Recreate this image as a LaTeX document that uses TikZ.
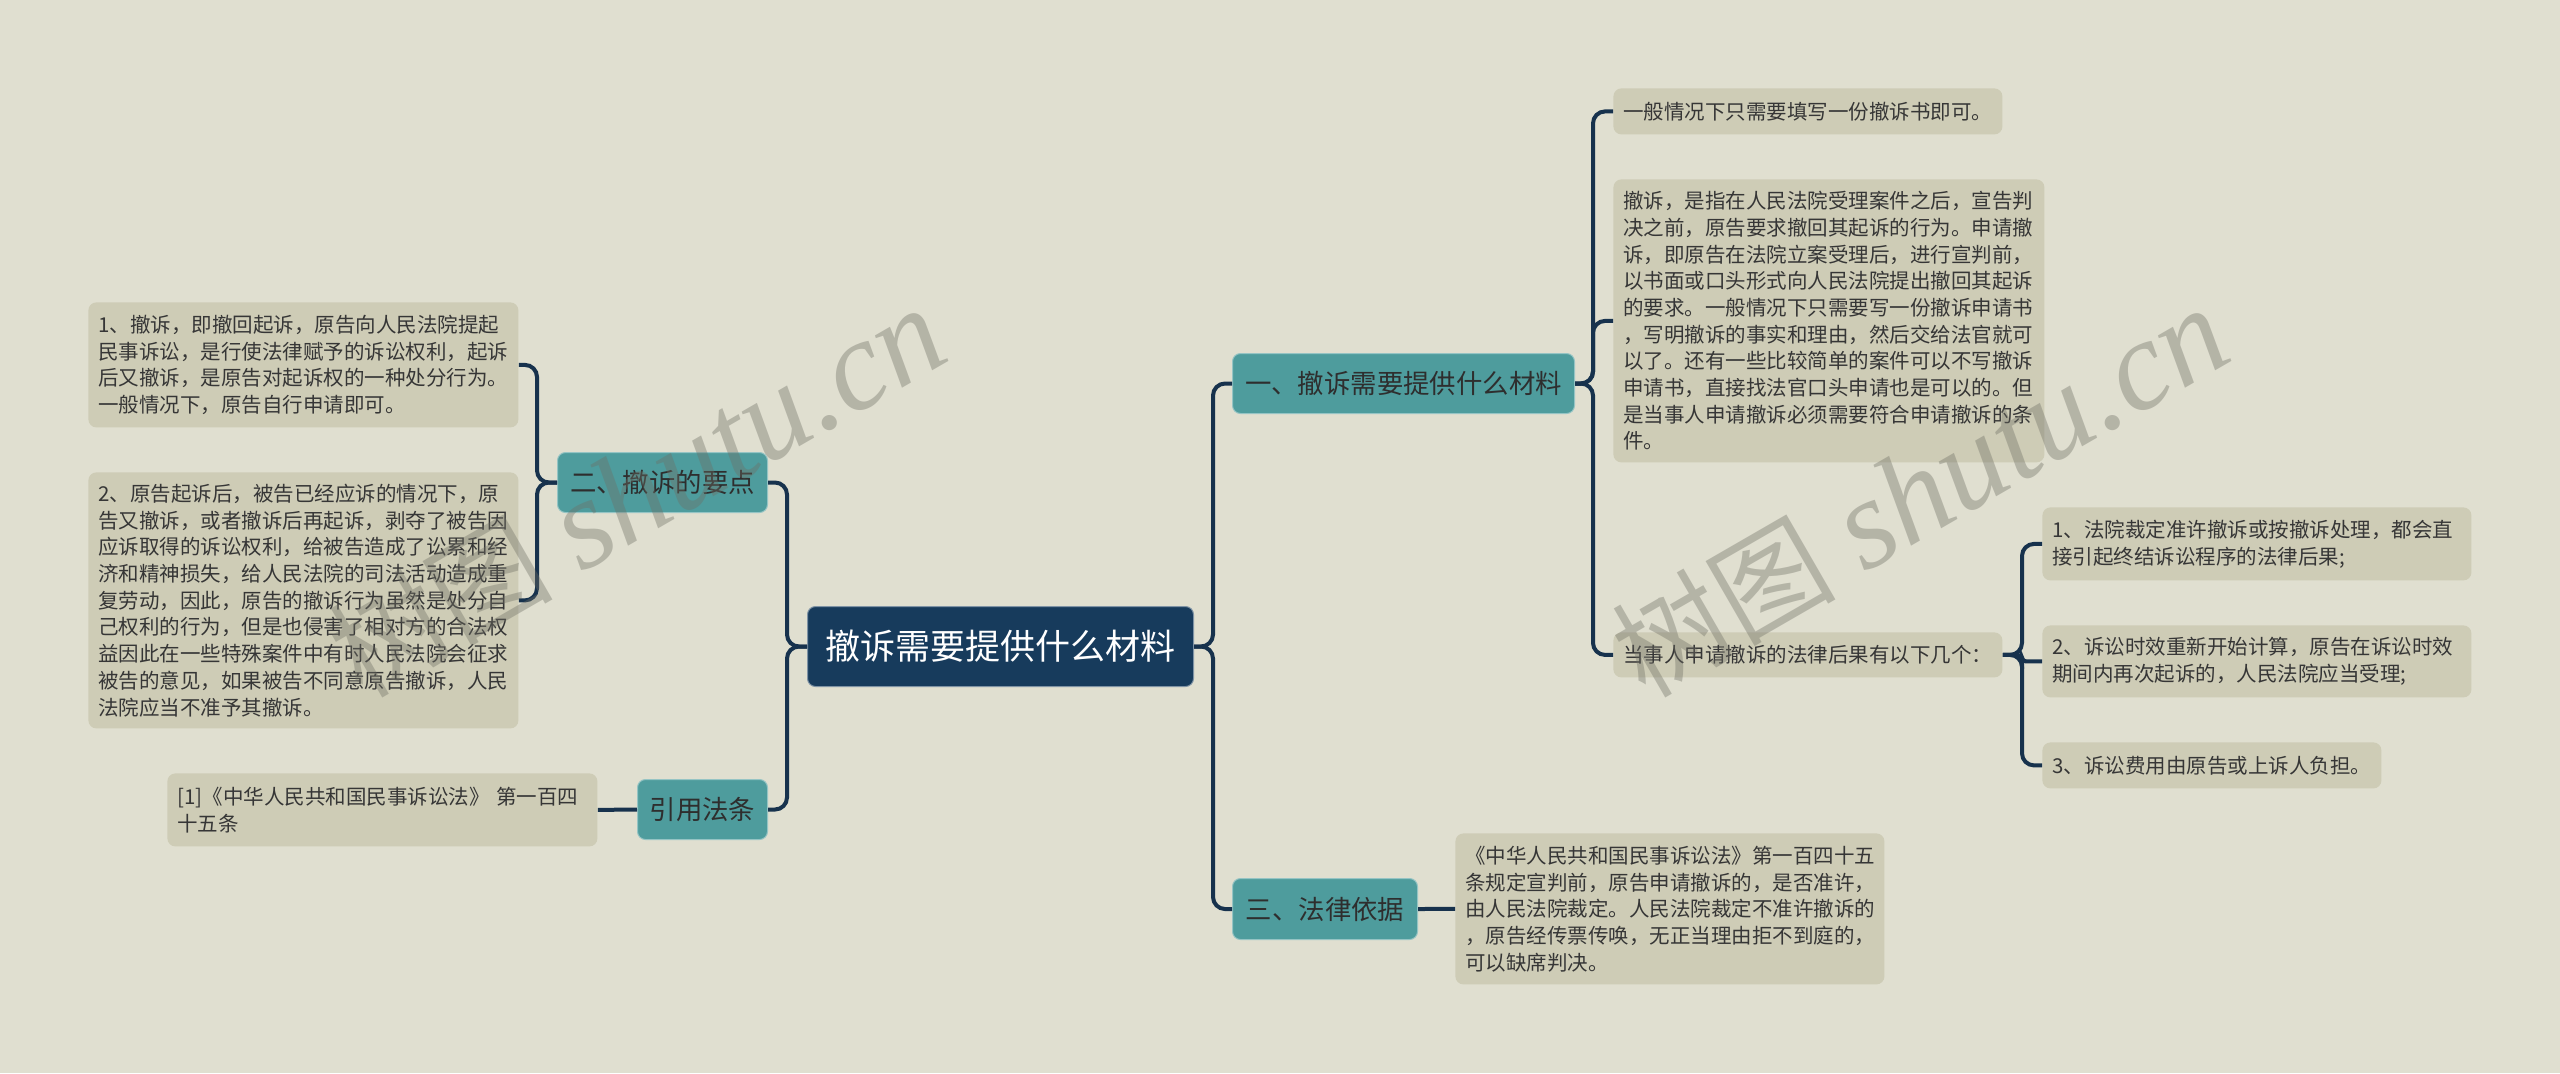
\documentclass[tikz,border=0pt]{standalone}
\usepackage{fontspec}
\setmainfont{Noto Sans CJK SC}
\newfontfamily\wmlat{Liberation Serif}
\newfontfamily\wmcjk{Noto Sans CJK SC}
\definecolor{bgc}{HTML}{E0DFD0}
\definecolor{leaffill}{HTML}{CECCB6}
\definecolor{leaftext}{HTML}{363636}
\definecolor{tealc}{HTML}{4E9C9D}
\definecolor{navyc}{HTML}{173B5C}
\definecolor{linec}{HTML}{17324D}
\definecolor{wmc}{HTML}{6E6E64}
\tikzset{
  leaf/.style={fill=leaffill, rounded corners=4pt, anchor=north west, inner xsep=5pt, inner ysep=0pt,
    align=left, text=leaftext, font=\fontsize{10.25pt}{13.35pt}\selectfont},
  branch/.style={fill=tealc, draw=tealc!60!white, line width=0.5pt, rounded corners=4pt, anchor=north west,
    inner sep=0pt, align=center, text=black!82, font=\fontsize{13.2pt}{16pt}\selectfont},
  rootbox/.style={fill=navyc, draw=navyc!55!white, line width=0.5pt, rounded corners=4pt, anchor=north west,
    inner sep=0pt, align=center, text=white, font=\fontsize{17.5pt}{21pt}\selectfont},
  conn/.style={draw=linec, line width=2pt, rounded corners=6pt},
  wm/.style={text=wmc, text opacity=0.38, inner sep=0pt, font=\fontsize{64pt}{64pt}\selectfont}
}
\begin{document}
\begin{tikzpicture}[x=0.5pt,y=-0.5pt]
\fill[bgc] (0,0) rectangle (2560,1073);
\useasboundingbox (0,0) rectangle (2560,1073);

% trunk coordinates
\coordinate (tR) at (1213,0);
\coordinate (tL) at (787,0);
\coordinate (t2) at (537,0);
\coordinate (t1) at (1593,0);
\coordinate (tS) at (2022,0);

% root
\node[rootbox, minimum width=193pt, minimum height=40pt] (C) at (807,606) {撤诉需要提供什么材料};

% branches
\node[branch, minimum width=171pt, minimum height=30pt] (B1) at (1232,353) {一、撤诉需要提供什么材料};
\node[branch, minimum width=105pt, minimum height=30pt] (B2) at (557,452) {二、撤诉的要点};
\node[branch, minimum width=65pt, minimum height=30pt] (B4) at (637,779) {引用法条};
\node[branch, minimum width=92.5pt, minimum height=30.5pt] (B3) at (1232,878) {三、法律依据};

% leaves of branch 1
\node[leaf, text width=184.5pt, minimum height=23pt] (L1a) at (1613,88) {一般情况下只需要填写一份撤诉书即可。};
\node[leaf, text width=205.5pt, minimum height=141.5pt] (L1b) at (1613,179) {撤诉，是指在人民法院受理案件之后，宣告判\\
决之前，原告要求撤回其起诉的行为。申请撤\\
诉，即原告在法院立案受理后，进行宣判前，\\
以书面或口头形式向人民法院提出撤回其起诉\\
的要求。一般情况下只需要写一份撤诉申请书\\
，写明撤诉的事实和理由，然后交给法官就可\\
以了。还有一些比较简单的案件可以不写撤诉\\
申请书，直接找法官口头申请也是可以的。但\\
是当事人申请撤诉必须需要符合申请撤诉的条\\
件。};
\node[leaf, text width=184.5pt, minimum height=22.5pt] (L1c) at (1613,632) {当事人申请撤诉的法律后果有以下几个：};

\node[leaf, text width=204.5pt, minimum height=36.5pt] (S1) at (2042,507) {1、法院裁定准许撤诉或按撤诉处理，都会直\\接引起终结诉讼程序的法律后果;};
\node[leaf, text width=204.5pt, minimum height=36pt] (S2) at (2042,625) {2、诉讼时效重新开始计算，原告在诉讼时效\\期间内再次起诉的，人民法院应当受理;};
\node[leaf, text width=159.5pt, minimum height=23pt] (S3) at (2042,742) {3、诉讼费用由原告或上诉人负担。};

% leaf of branch 3
\node[leaf, text width=204.5pt, minimum height=75.5pt] (L3) at (1455,833) {《中华人民共和国民事诉讼法》第一百四十五\\
条规定宣判前，原告申请撤诉的，是否准许，\\
由人民法院裁定。人民法院裁定不准许撤诉的\\
，原告经传票传唤，无正当理由拒不到庭的，\\
可以缺席判决。};

% leaves of branch 2
\node[leaf, text width=205pt, minimum height=62.5pt] (L2a) at (88,302) {1、撤诉，即撤回起诉，原告向人民法院提起\\
民事诉讼，是行使法律赋予的诉讼权利，起诉\\
后又撤诉，是原告对起诉权的一种处分行为。\\
一般情况下，原告自行申请即可。};
\node[leaf, text width=205pt, minimum height=128pt] (L2b) at (88,472) {2、原告起诉后，被告已经应诉的情况下，原\\
告又撤诉，或者撤诉后再起诉，剥夺了被告因\\
应诉取得的诉讼权利，给被告造成了讼累和经\\
济和精神损失，给人民法院的司法活动造成重\\
复劳动，因此，原告的撤诉行为虽然是处分自\\
己权利的行为，但是也侵害了相对方的合法权\\
益因此在一些特殊案件中有时人民法院会征求\\
被告的意见，如果被告不同意原告撤诉，人民\\
法院应当不准予其撤诉。};

% leaf of branch 4
\node[leaf, text width=205pt, minimum height=36.5pt] (L4) at (167,773) {[1]《中华人民共和国民事诉讼法》~第一百四\\十五条};

% connectors: root
\draw[conn] (C.east) -- (C.east -| tR) -- (B1.west -| tR) -- (B1.west);
\draw[conn] (C.east) -- (C.east -| tR) -- (B3.west -| tR) -- (B3.west);
\draw[conn] (C.west) -- (C.west -| tL) -- (B2.east -| tL) -- (B2.east);
\draw[conn] (C.west) -- (C.west -| tL) -- (B4.east -| tL) -- (B4.east);
% branch 1
\draw[conn] (B1.east) -- (B1.east -| t1) -- (L1a.west -| t1) -- (L1a.west);
\draw[conn] (B1.east) -- (B1.east -| t1) -- (L1b.west -| t1) -- (L1b.west);
\draw[conn] (B1.east) -- (B1.east -| t1) -- (L1c.west -| t1) -- (L1c.west);
% sub leaves
\draw[conn] (L1c.east) -- (L1c.east -| tS) -- (S1.west -| tS) -- (S1.west);
\draw[conn, rounded corners=2pt] (L1c.east) -- (L1c.east -| tS) -- (S2.west -| tS) -- (S2.west);
\draw[conn] (L1c.east) -- (L1c.east -| tS) -- (S3.west -| tS) -- (S3.west);
% branch 2
\draw[conn] (B2.west) -- (B2.west -| t2) -- (L2a.east -| t2) -- (L2a.east);
\draw[conn] (B2.west) -- (B2.west -| t2) -- (L2b.east -| t2) -- (L2b.east);
% branch 3, 4
\draw[conn] (B3.east) -- (L3.west);
\draw[conn] (B4.west) -- (L4.east);

% watermarks
\node[wm, anchor=base west, rotate=30] (wm1) at (362,700) {{\wmcjk\fontsize{56pt}{56pt}\selectfont 树图} {\wmlat\itshape shutu.cn}};
\node[wm, anchor=base west, rotate=30] (wm2) at (1645,700) {{\wmcjk\fontsize{56pt}{56pt}\selectfont 树图} {\wmlat\itshape shutu.cn}};
\end{tikzpicture}
\end{document}
